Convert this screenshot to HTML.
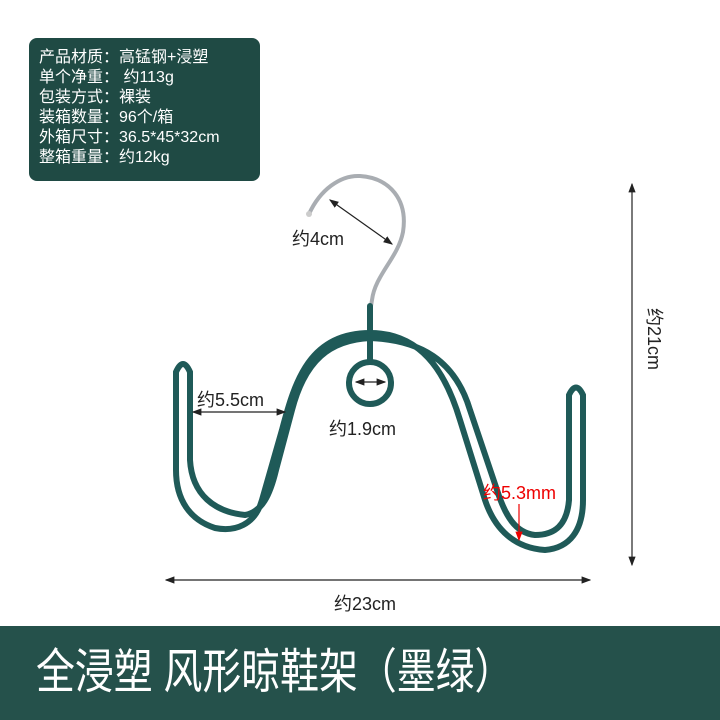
<!DOCTYPE html>
<html><head><meta charset="utf-8"><style>
body{margin:0;width:720px;height:720px;background:#fff;position:relative;overflow:hidden;font-family:"Liberation Sans","Noto Sans CJK SC",sans-serif;}
.box{position:absolute;left:29px;top:38px;width:231px;height:143px;background:#1f4a44;border-radius:8px;color:#fff;font-size:16px;line-height:20px;padding:10px 0 0 10px;box-sizing:border-box;white-space:nowrap;}
.banner{position:absolute;left:0;top:626px;width:720px;height:94px;background:#25514b;}
.banner span{position:absolute;left:36px;top:19px;color:#fff;font-size:48px;line-height:56px;white-space:nowrap;transform:scaleX(0.81);transform-origin:0 0;}
svg{position:absolute;left:0;top:0;}
</style></head><body>
<div class="box">产品材质：高锰钢+浸塑<br>单个净重： 约113g<br>包装方式：裸装<br>装箱数量：96个/箱<br>外箱尺寸：36.5*45*32cm<br>整箱重量：约12kg</div>
<svg width="720" height="626" viewBox="0 0 720 626">
<defs><marker id="a" markerWidth="8" markerHeight="8" refX="7" refY="4" orient="auto-start-reverse"><path d="M0,1 L8,4 L0,7z" fill="#222"/></marker>
<marker id="r" markerWidth="8" markerHeight="8" refX="7" refY="4" orient="auto"><path d="M0,1 L8,4 L0,7z" fill="#e00"/></marker></defs>
<path d="M309,214 C320,190 340,175 360,176 C390,178 408,200 403,232 C398,258 375,275 372,300 L371,306" fill="none" stroke="#a9adb2" stroke-width="4"/>
<circle cx="309" cy="214" r="3" fill="#ccc"/>
<g fill="none" stroke="#1f5a58" stroke-width="6" stroke-linecap="round">
<path d="M370,306 L370,334"/>
<path d="M370,334 L370,360"/>
<circle cx="370" cy="383" r="21"/>
<path d="M370,333 C310,333 295,380 282,430 L262,500 C255,525 235,532 215,528 C190,520 176,500 176,470 L176,372 Q183,356 190,372 L190,460 C192,495 215,512 245,515 C262,512 270,495 276,470 L292,410 C305,360 330,340 370,338"/>
<path d="M370,333 C420,333 445,370 460,420 L485,500 C495,530 515,548 545,550 C570,548 583,530 583,500 L583,395 Q576,380 569,395 L569,500 C567,525 555,535 535,535 C515,533 505,515 497,490 L470,410 C455,360 420,340 370,338"/>
</g>
<g stroke="#222" stroke-width="1.2" fill="none">
<line x1="330" y1="200" x2="392" y2="244" marker-start="url(#a)" marker-end="url(#a)"/>
<line x1="193" y1="412" x2="285" y2="412" marker-start="url(#a)" marker-end="url(#a)"/>
<line x1="356" y1="382" x2="385" y2="382" marker-start="url(#a)" marker-end="url(#a)"/>
<line x1="632" y1="184" x2="632" y2="565" marker-start="url(#a)" marker-end="url(#a)"/>
<line x1="166" y1="580" x2="590" y2="580" marker-start="url(#a)" marker-end="url(#a)"/>
</g>
<line x1="519" y1="504" x2="519" y2="540" stroke="#e00" stroke-width="1.2" marker-end="url(#r)"/>
<g font-family="Liberation Sans,Noto Sans CJK SC,sans-serif" font-size="18" fill="#222">
<text x="292" y="245">约4cm</text>
<text x="197" y="406">约5.5cm</text>
<text x="329" y="435">约1.9cm</text>
<text x="483" y="499" fill="#e00">约5.3mm</text>
<text x="334" y="610">约23cm</text>
<text transform="translate(648,308) rotate(90)">约21cm</text>
</g>
</svg>
<div class="banner"><span>全浸塑 风形晾鞋架（墨绿）</span></div>
</body></html>
